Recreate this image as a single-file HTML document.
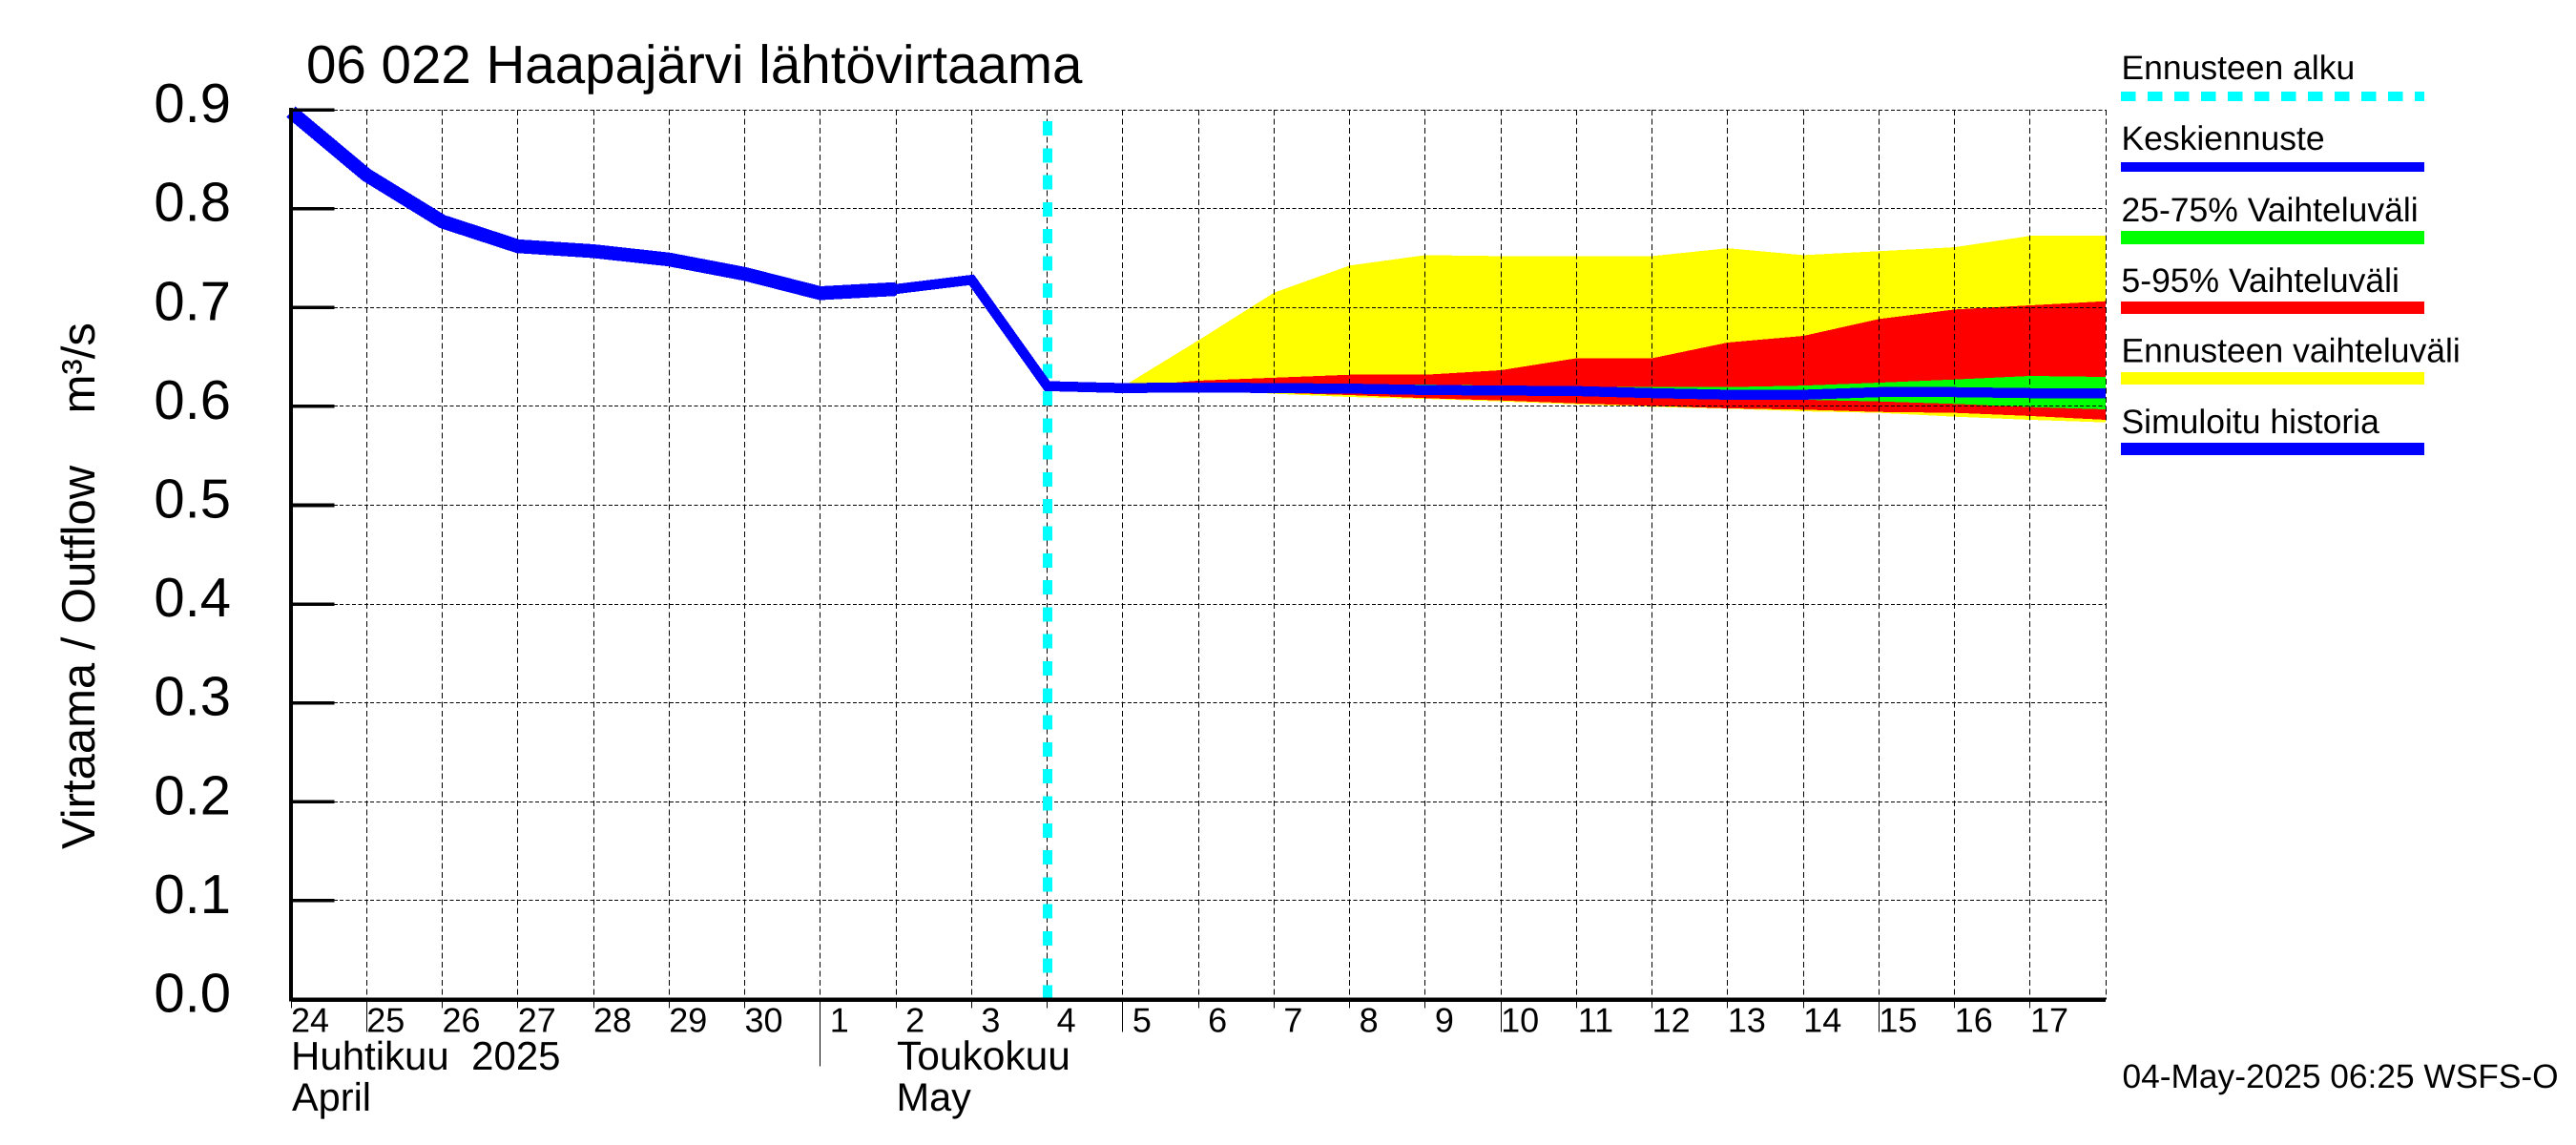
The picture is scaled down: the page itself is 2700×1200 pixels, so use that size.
<!DOCTYPE html>
<html lang="fi">
<head>
<meta charset="utf-8">
<title>06 022 Haapajärvi lähtövirtaama</title>
<style>
html,body{margin:0;padding:0;background:#fff;}
svg{display:block;}
text{font-family:"Liberation Sans",Arial,sans-serif;fill:#000;white-space:pre;text-rendering:geometricPrecision;}
</style>
</head>
<body>
<svg id="chart" xmlns="http://www.w3.org/2000/svg" width="2700" height="1200" viewBox="0 0 2700 1200">
  <rect x="0" y="0" width="2700" height="1200" fill="#fff"/>
  <g id="bands"></g>
  <g id="grid"></g>
  <g id="start-marker"></g>
  <g id="lines"></g>
  <g id="axes"></g>

  <text x="321" y="87" font-size="56.5">06 022 Haapajärvi lähtövirtaama</text>
  <text transform="translate(99 890) rotate(-90)" font-size="49">Virtaama / Outflow    m³/s</text>

  <text x="305" y="1121" font-size="42">Huhtikuu  2025</text>
  <text x="306" y="1164" font-size="41.5">April</text>
  <text x="940" y="1121" font-size="42.5">Toukokuu</text>
  <text x="939.5" y="1164" font-size="41.5">May</text>
  <text x="2224.5" y="1140" font-size="35.3">04-May-2025 06:25 WSFS-O</text>

  <g shape-rendering="crispEdges">
    <g>
      <text x="2223.5" y="83" font-size="35.5">Ennusteen alku</text>
      <line x1="2223" x2="2541" y1="101" y2="101" stroke="#00ffff" stroke-width="10" stroke-dasharray="15.4 12.6"/>
    </g>
    <g>
      <text x="2223.5" y="157" font-size="35.5">Keskiennuste</text>
      <rect x="2223" y="170" width="318" height="10" fill="#0000ff"/>
    </g>
    <g>
      <text x="2223.5" y="232" font-size="35.5">25-75% Vaihteluväli</text>
      <rect x="2223" y="242" width="318" height="14" fill="#00ff00"/>
    </g>
    <g>
      <text x="2223.5" y="306" font-size="35.5">5-95% Vaihteluväli</text>
      <rect x="2223" y="316" width="318" height="13" fill="#ff0000"/>
    </g>
    <g>
      <text x="2223.5" y="379.5" font-size="35.5">Ennusteen vaihteluväli</text>
      <rect x="2223" y="390" width="318" height="13" fill="#ffff00"/>
    </g>
    <g>
      <text x="2223.5" y="454" font-size="35.5">Simuloitu historia</text>
      <rect x="2223" y="464" width="318" height="13" fill="#0000ff"/>
    </g>
  </g>
</svg>

<script>
// Categories: one label per day, 24 April to 17 May
const dayLabels = [24,25,26,27,28,29,30,1,2,3,4,5,6,7,8,9,10,11,12,13,14,15,16,17];
// Value-axis tick labels
const valueTicks = ["0.0","0.1","0.2","0.3","0.4","0.5","0.6","0.7","0.8","0.9"];
// Series: simulated history, from 24 April to 2 May
const historyValues = [0.898,0.834,0.787,0.762,0.757,0.7486,0.734,0.7145,0.7187];
// Series: mean forecast, from 2 May to the end of the axis
const meanForecast = [0.7187,0.728,0.6205,0.6185,0.6192,0.6185,0.618,0.6166,0.616,0.6155,0.6134,0.6118,0.6118,0.6144,0.6144,0.6134,0.6134];
// Forecast bands, from 4 May to the end of the axis
const rangeUpper = [0.6205,0.62,0.6668,0.715,0.7425,0.753,0.752,0.752,0.752,0.76,0.753,0.757,0.761,0.7725,0.7725];
const rangeLower = [0.6205,0.6185,0.617,0.6128,0.6095,0.6076,0.605,0.602,0.5995,0.5977,0.595,0.5935,0.5896,0.5864,0.5838];
const p95Upper = [0.6205,0.62,0.626,0.629,0.632,0.632,0.6366,0.6487,0.6487,0.6646,0.6713,0.6884,0.698,0.7022,0.7064];
const p95Lower = [0.6205,0.618,0.616,0.6138,0.6115,0.6083,0.606,0.603,0.6005,0.598,0.5967,0.5944,0.5935,0.5903,0.5864];
const p75Upper = [0.6205,0.62,0.621,0.622,0.622,0.622,0.621,0.62,0.6195,0.6195,0.621,0.624,0.6272,0.6308,0.6298];
const p75Lower = [0.6205,0.619,0.618,0.617,0.616,0.615,0.613,0.611,0.6083,0.6073,0.6067,0.605,0.6025,0.5993,0.597];
// Days (by label position) that get a longer tick, and the month boundary
const longTickDays = [1,11,16,21];
const monthStartDay = 7;
// Where each series begins, as a day position on the axis
const historyStartDay = 0;
const meanStartDay = 8;
const bandStartDay = 10;
const forecastStartDay = 10;

const SVG_NS = "http://www.w3.org/2000/svg";
const dayAxis = { left: 305, perDay: 79.26, days: 24 };
const valueAxis = { bottom: 1047.5, perUnit: 1036, max: 0.9 };
function xOf(day) { return dayAxis.left + day * dayAxis.perDay; }
function yOf(value) { return valueAxis.bottom - value * valueAxis.perUnit; }
function crisp(p) { return Math.floor(p) + 0.5; }
function make(parent, tag, attrs) {
  const el = document.createElementNS(SVG_NS, tag);
  for (const k in attrs) el.setAttribute(k, attrs[k]);
  parent.appendChild(el);
  return el;
}

const bands = document.getElementById("bands");
const grid = document.getElementById("grid");
const marker = document.getElementById("start-marker");
const lines = document.getElementById("lines");
const axes = document.getElementById("axes");

function bandPoints(upper, lower, start) {
  const top = upper.map((v, i) => xOf(start + i) + "," + yOf(v));
  const bottom = lower.map((v, i) => xOf(start + i) + "," + yOf(v)).reverse();
  return top.concat(bottom).join(" ");
}
function linePoints(values, start) {
  return values.map((v, i) => xOf(start + i) + "," + yOf(v)).join(" ");
}

const forecastBand = make(bands, "polygon", { points: bandPoints(rangeUpper, rangeLower, bandStartDay), fill: "#ffff00", "shape-rendering": "crispEdges" });


const band595 = make(bands, "polygon", { points: bandPoints(p95Upper, p95Lower, bandStartDay), fill: "#ff0000", "shape-rendering": "crispEdges" });


const band2575 = make(bands, "polygon", { points: bandPoints(p75Upper, p75Lower, bandStartDay), fill: "#00ff00", "shape-rendering": "crispEdges" });



// Horizontal grid lines, one per value tick above zero
valueTicks.forEach(function (label) {
  const v = parseFloat(label);
  if (v === 0) return;
  const y = crisp(yOf(v));
  const g = make(grid, "line", { x1: xOf(0), x2: xOf(dayAxis.days), y1: y, y2: y, stroke: "#000", "stroke-width": 1, "stroke-dasharray": "4 2.4", "shape-rendering": "crispEdges" });
  
  
});
// Vertical grid lines, one per day boundary after the first
for (let d = 1; d <= dayAxis.days; d++) {
  const x = crisp(xOf(d));
  const g = make(grid, "line", { x1: x, x2: x, y1: yOf(valueAxis.max), y2: valueAxis.bottom, stroke: "#000", "stroke-width": 1, "stroke-dasharray": "6 3.4", "shape-rendering": "crispEdges" });
  
  
}

// Forecast start marker
const startLine = make(marker, "line", { x1: xOf(forecastStartDay) + 0.6, x2: xOf(forecastStartDay) + 0.6, y1: 127, y2: valueAxis.bottom, stroke: "#00ffff", "stroke-width": 10, "stroke-dasharray": "15 13.3", "shape-rendering": "crispEdges" });



// Series lines
const meanLine = make(lines, "polyline", { points: linePoints(meanForecast, meanStartDay), fill: "none", stroke: "#0000ff", "stroke-width": 10.5, "stroke-linejoin": "miter", "shape-rendering": "crispEdges" });


const historyLine = make(lines, "polyline", { points: linePoints(historyValues, historyStartDay), fill: "none", stroke: "#0000ff", "stroke-width": 14.5, "stroke-linejoin": "miter", "shape-rendering": "crispEdges" });



// Axis lines
const yAxisLine = make(axes, "line", { x1: dayAxis.left, x2: dayAxis.left, y1: yOf(valueAxis.max) - 2, y2: valueAxis.bottom + 2, stroke: "#000", "stroke-width": 4, "shape-rendering": "crispEdges" });


const xAxisLine = make(axes, "line", { x1: dayAxis.left, x2: xOf(dayAxis.days), y1: valueAxis.bottom, y2: valueAxis.bottom, stroke: "#000", "stroke-width": 4.5, "shape-rendering": "crispEdges" });



// Value-axis ticks and labels
valueTicks.forEach(function (label) {
  const v = parseFloat(label);
  const y = yOf(v);
  if (v > 0) {
    const tick = make(axes, "line", { x1: dayAxis.left, x2: dayAxis.left + 45.5, y1: y, y2: y, stroke: "#000", "stroke-width": 3.6, "shape-rendering": "crispEdges" });
    
    
  }
  const t = make(axes, "text", { x: 242, y: y + 13, "font-size": 58, "text-anchor": "end" });
  t.textContent = label;
  
  
});

// Day-axis ticks and labels
dayLabels.forEach(function (label, d) {
  let end = 1056.7;
  if (longTickDays.indexOf(d) !== -1) end = 1081.7;
  if (d === monthStartDay) end = 1117.7;
  const x = crisp(xOf(d));
  const tick = make(axes, "line", { x1: x, x2: x, y1: valueAxis.bottom, y2: end, stroke: "#000", "stroke-width": 1, "shape-rendering": "crispEdges" });
  
  
  const t = make(axes, "text", { x: xOf(d) + 20, y: 1081.5, "font-size": 36, "text-anchor": "middle" });
  t.textContent = String(label);
  
  
});
</script>
</body>
</html>
